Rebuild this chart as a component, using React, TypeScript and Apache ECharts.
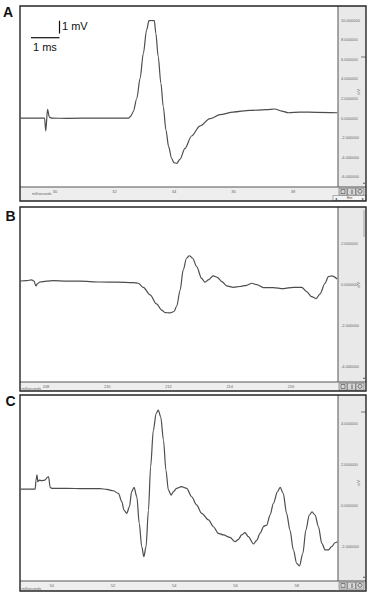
import React, { useEffect, useRef } from "react";
import * as echarts from "echarts";

// ---- Data (time in ms, potential in mV) ----
const timeA = [28.85, 29.61, 29.65, 29.69, 29.75, 29.81, 29.89, 30.39, 31.51, 32.47, 32.55, 32.63, 32.75, 32.86, 32.97, 33.08, 33.16, 33.25, 33.34, 33.39, 33.47, 33.56, 33.64, 33.73, 33.82, 33.92, 34.0, 34.09, 34.2, 34.37, 34.59, 34.87, 35.21, 35.55, 35.99, 36.55, 37.11, 37.39, 37.62, 37.84, 38.24, 38.8, 39.49];
const voltA = [0, 0, 0, -1.31, 0.89, 0.1, 0, -0.02, 0.01, 0.01, 0.21, 0.66, 2.0, 4.05, 6.6, 9.0, 9.93, 9.95, 9.93, 8.64, 6.26, 3.54, 1.17, -1.21, -2.91, -4.1, -4.54, -4.61, -4.2, -3.08, -1.82, -0.81, -0.06, 0.35, 0.62, 0.79, 0.86, 0.93, 0.72, 0.55, 0.62, 0.59, 0.55];

const timeB = [207.17, 207.37, 207.53, 207.61, 207.67, 207.72, 207.8, 208.02, 208.24, 208.67, 209.11, 209.76, 210.31, 210.85, 211.01, 211.18, 211.4, 211.61, 211.78, 211.89, 212.05, 212.18, 212.27, 212.38, 212.48, 212.59, 212.68, 212.79, 212.92, 213.08, 213.19, 213.3, 213.46, 213.59, 213.74, 213.9, 214.12, 214.33, 214.55, 214.72, 214.88, 215.1, 215.42, 215.75, 216.08, 216.35, 216.51, 216.67, 216.82, 216.95, 217.11, 217.22, 217.33, 217.51];
const voltB = [0.16, 0.18, 0.21, 0.15, -0.08, 0.02, 0.11, 0.15, 0.18, 0.15, 0.15, 0.11, 0.1, 0.08, 0.05, -0.15, -0.52, -0.96, -1.26, -1.38, -1.4, -1.33, -1.06, -0.28, 0.7, 1.27, 1.4, 1.27, 0.86, 0.29, 0.1, 0.21, 0.41, 0.34, 0.13, -0.08, -0.15, -0.11, -0.05, 0.05, -0.02, -0.16, -0.16, -0.21, -0.15, -0.15, -0.36, -0.6, -0.7, -0.47, 0.05, 0.37, 0.41, 0.26];

const timeC = [48.99, 49.4, 49.46, 49.49, 49.52, 49.55, 49.6, 49.67, 49.78, 49.86, 49.9, 49.95, 50.0, 50.49, 51.03, 51.58, 51.8, 52.01, 52.18, 52.29, 52.36, 52.45, 52.54, 52.61, 52.69, 52.78, 52.86, 52.94, 53.01, 53.08, 53.16, 53.23, 53.32, 53.41, 53.48, 53.56, 53.65, 53.73, 53.81, 53.9, 53.97, 54.08, 54.24, 54.41, 54.57, 54.73, 54.9, 55.12, 55.28, 55.44, 55.61, 55.82, 55.99, 56.1, 56.2, 56.31, 56.42, 56.59, 56.7, 56.8, 56.93, 57.02, 57.13, 57.24, 57.37, 57.46, 57.56, 57.67, 57.78, 57.89, 58.0, 58.09, 58.2, 58.3, 58.41, 58.5, 58.6, 58.71, 58.82, 58.93, 59.03, 59.14, 59.25, 59.33];
const voltC = [0.79, 0.79, 0.79, 1.23, 1.48, 1.15, 1.23, 1.2, 1.23, 1.36, 1.39, 0.88, 0.83, 0.83, 0.81, 0.81, 0.78, 0.71, 0.58, 0.18, -0.23, -0.39, -0.06, 0.67, 0.88, 0.42, -0.88, -2.01, -2.5, -2.01, -0.23, 1.88, 3.66, 4.47, 4.64, 4.31, 3.18, 1.72, 0.75, 0.5, 0.66, 0.83, 0.91, 0.83, 0.42, 0.02, -0.39, -0.71, -1.04, -1.36, -1.44, -1.56, -1.77, -1.65, -1.44, -1.33, -1.52, -1.88, -1.69, -1.36, -1.01, -0.96, -0.47, 0.1, 0.66, 0.88, 0.58, -0.39, -1.2, -2.17, -2.82, -2.95, -2.34, -1.2, -0.47, -0.32, -0.47, -1.04, -1.85, -2.17, -2.17, -2.01, -1.82, -1.77];

const xTicksA = [30, 32, 34, 36, 38];
const xTicksB = [208, 210, 212, 214, 216];
const xTicksC = [50, 52, 54, 56, 58];
const yTicksA = [10, 8, 6, 4, 2, 0, -2, -4, -6];
const yTicksB = [2, 0, -2, -4];
const yTicksC = [4, 2, 0, -2];
const panelLetters = ["A", "B", "C"];
const xUnit = "milliseconds";
const yUnit = "mV";

const zip = (xs: number[], ys: number[]) => xs.map((x, i) => [x, ys[i]]);

// layout (pixels)
const L = 20, PR = 338, R = 366;
const panels = [
  { top: 6, plotBottom: 187, bottom: 201, letterY: 5, unitY: 92 },
  { top: 207, plotBottom: 382, bottom: 391, letterY: 209, unitY: 285 },
  { top: 395, plotBottom: 581, bottom: 591, letterY: 394, unitY: 483 },
];
const msY = [194, 388.5, 588.5];

export default function App() {
  const ref = useRef<HTMLDivElement>(null);
  useEffect(() => {
    if (!ref.current) return;
    const chart = echarts.init(ref.current, null, { renderer: "svg" });
    const font = "Liberation Sans";
    const xRanges = [[28.824, 39.513], [207.151, 217.535], [48.966, 59.348]];
    const yRanges = [[-7.02, 11.43], [-4.77, 3.77], [-3.68, 5.37]];
    const xTicks = [xTicksA, xTicksB, xTicksC];
    const yTicks = [yTicksA, yTicksB, yTicksC];
    const series = [zip(timeA, voltA), zip(timeB, voltB), zip(timeC, voltC)];

    const graphic: any[] = [];
    panels.forEach((p, i) => {
      const h = p.bottom - p.top;
      graphic.push({ type: "rect", z: 0, shape: { x: L, y: p.top, width: R - L, height: h }, style: { fill: "#ffffff" } });
      graphic.push({ type: "rect", z: 0, shape: { x: PR, y: p.top, width: R - PR, height: p.plotBottom - p.top }, style: { fill: "#e9e9e9" } });
      graphic.push({ type: "rect", z: 0, shape: { x: L, y: p.plotBottom, width: R - L, height: p.bottom - p.plotBottom }, style: { fill: "#eeeeee" } });
      graphic.push({ type: "line", z: 50, shape: { x1: PR, y1: p.top, x2: PR, y2: p.plotBottom }, style: { stroke: "#555", lineWidth: 1 } });
      graphic.push({ type: "line", z: 50, shape: { x1: L, y1: p.plotBottom, x2: R, y2: p.plotBottom }, style: { stroke: "#555", lineWidth: 1 } });
      graphic.push({ type: "rect", z: 60, shape: { x: L, y: p.top, width: R - L, height: h }, style: { fill: "none", stroke: "#262626", lineWidth: 1.4 } });
      // toolbar icons
      [339, 347.5, 356].forEach((ix) => {
        graphic.push({ type: "rect", z: 55, shape: { x: ix, y: p.plotBottom + 1.2, width: 8, height: 7 }, style: { fill: "#d6d6d6", stroke: "#666", lineWidth: 0.6 } });
      });
      graphic.push({ type: "line", z: 56, shape: { x1: 352, y1: p.plotBottom + 2.5, x2: 352, y2: p.plotBottom + 7 }, style: { stroke: "#444", lineWidth: 0.8 } });
      graphic.push({ type: "circle", z: 56, shape: { cx: 360, cy: p.plotBottom + 4.3, r: 2 }, style: { fill: "none", stroke: "#444", lineWidth: 0.7 } });
      graphic.push({ type: "rect", z: 56, shape: { x: 341, y: p.plotBottom + 2.5, width: 4, height: 4 }, style: { fill: "none", stroke: "#444", lineWidth: 0.6 } });
      // small arrow near bottom of right panel
      graphic.push({ type: "polygon", z: 55, shape: { points: [[363, p.plotBottom - 3], [365, p.plotBottom - 3], [364, p.plotBottom - 5]] }, style: { fill: "#555" } });
      // letter
      graphic.push({ type: "text", z: 60, x: i === 0 ? 3 : 5.5, y: p.letterY, style: { text: panelLetters[i], font: `bold 14px "${font}"`, fill: "#111", textVerticalAlign: "top" } });
      // unit label
      graphic.push({ type: "text", z: 60, x: 358.5, y: p.unitY, rotation: Math.PI / 2, style: { text: yUnit, font: `4px "${font}"`, fill: "#666", textAlign: "center", textVerticalAlign: "middle" } });
      graphic.push({ type: "text", z: 60, x: i === 0 ? 32 : 21.5, y: msY[i], style: { text: xUnit, font: `3.6px "${font}"`, fill: "#666", textVerticalAlign: "middle" } });
    });
    // extra marks in right panels
    graphic.push({ type: "line", z: 55, shape: { x1: 361, y1: 57, x2: 366, y2: 57 }, style: { stroke: "#555", lineWidth: 0.8 } });
    graphic.push({ type: "line", z: 55, shape: { x1: 364, y1: 210, x2: 364, y2: 237 }, style: { stroke: "#777", lineWidth: 0.6 } });
    graphic.push({ type: "line", z: 55, shape: { x1: 361, y1: 412, x2: 366, y2: 412 }, style: { stroke: "#555", lineWidth: 0.8 } });
    // panel A bottom control row
    graphic.push({ type: "rect", z: 55, shape: { x: 333, y: 195.5, width: 33, height: 5 }, style: { fill: "#f4f4f4", stroke: "#666", lineWidth: 0.5 } });
    graphic.push({ type: "text", z: 56, x: 349.5, y: 198, style: { text: "Ent", font: `3.5px "${font}"`, fill: "#444", textAlign: "center", textVerticalAlign: "middle" } });
    graphic.push({ type: "text", z: 56, x: 336, y: 198, style: { text: "◂", font: `4px "DejaVu Sans"`, fill: "#444", textAlign: "center", textVerticalAlign: "middle" } });
    graphic.push({ type: "text", z: 56, x: 363, y: 198, style: { text: "▸", font: `4px "DejaVu Sans"`, fill: "#444", textAlign: "center", textVerticalAlign: "middle" } });
    // scale bar in A
    graphic.push({ type: "line", z: 60, shape: { x1: 31, y1: 37.7, x2: 59.5, y2: 37.7 }, style: { stroke: "#111", lineWidth: 1.2 } });
    graphic.push({ type: "line", z: 60, shape: { x1: 59.5, y1: 20.7, x2: 59.5, y2: 33.5 }, style: { stroke: "#111", lineWidth: 1.2 } });
    graphic.push({ type: "text", z: 60, x: 62, y: 20.5, style: { text: "1 mV", font: `11px "${font}"`, fill: "#111", textVerticalAlign: "top" } });
    graphic.push({ type: "text", z: 60, x: 33, y: 41.5, style: { text: "1 ms", font: `11px "${font}"`, fill: "#111", textVerticalAlign: "top" } });

    const option: any = {
      animation: false,
      backgroundColor: "#ffffff",
      graphic,
      grid: panels.map((p) => ({ left: L, top: p.top, width: PR - L, height: p.plotBottom - p.top, outerBoundsMode: "none", containLabel: false })),
      xAxis: panels.map((_, i) => ({
        type: "value", gridIndex: i, min: xRanges[i][0], max: xRanges[i][1], z: 5,
        axisLine: { show: false }, axisTick: { show: false }, splitLine: { show: false },
        axisLabel: { customValues: xTicks[i], fontSize: 4, color: "#666", margin: 2, fontFamily: font, formatter: (v: number) => String(v) },
      })),
      yAxis: panels.map((_, i) => ({
        type: "value", gridIndex: i, position: "right", min: yRanges[i][0], max: yRanges[i][1], z: 5,
        axisLine: { show: false }, axisTick: { show: false }, splitLine: { show: false },
        axisLabel: { customValues: yTicks[i], fontSize: 4, color: "#666", margin: 3, fontFamily: font, formatter: (v: number) => v.toFixed(6) },
      })),
      series: series.map((d, i) => ({
        type: "line", xAxisIndex: i, yAxisIndex: i, data: d, showSymbol: false, symbol: "none",
        smooth: 0.3, smoothMonotone: "x", z: 10,
        lineStyle: { color: "#4d4d4d", width: 1.2 },
      })),
    };
    chart.setOption(option);
    return () => chart.dispose();
  }, []);
  return <div ref={ref} style={{ position: "absolute", left: 0, top: 0, width: 372, height: 593 }} />;
}
